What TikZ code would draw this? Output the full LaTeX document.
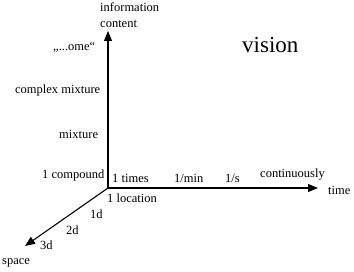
\documentclass[tikz,border=0pt]{standalone}
\usepackage{fontspec}
\setmainfont{Liberation Serif}
\usetikzlibrary{arrows.meta}
\begin{document}
\begin{tikzpicture}[x=1pt,y=-1pt,
  lbl/.style={inner sep=0pt,anchor=west,font=\fontsize{12.5}{15.5}\selectfont},
  axis/.style={line width=1.1pt,-{Triangle[length=10pt,width=8pt]}}]
\useasboundingbox (0,0) rectangle (354,272);
\coordinate (O) at (108,188);
\coordinate (top) at (108,31);
\coordinate (right) at (318,188);
\coordinate (diag) at (25,246);
\draw[axis] (O) -- (top);
\draw[axis] (O) -- (right);
\draw[axis] (O) -- (diag);
\node[lbl,anchor=north west,align=left] (info) at (100,3) {information\\content};
\node[lbl] (ome) at (53,47) {„...ome“};
\node[lbl] (cmix) at (15,90) {complex mixture};
\node[lbl] (mix) at (59,134) {mixture};
\node[lbl] (comp) at (42,175) {1 compound};
\node[lbl] (times) at (112,178) {1 times};
\node[lbl] (min) at (174,178) {1/min};
\node[lbl] (sec) at (225,178) {1/s};
\node[lbl] (cont) at (260,175) {continuously};
\node[lbl] (time) at (328,190) {time};
\node[lbl] (loc) at (107,198) {1 location};
\node[lbl] (d1) at (90,214) {1d};
\node[lbl] (d2) at (66,230) {2d};
\node[lbl] (d3) at (40,245) {3d};
\node[lbl] (space) at (2,263) {space};
\node[inner sep=0pt,anchor=west,font=\fontsize{23}{26}\selectfont] (vision) at (242,45) {vision};
\end{tikzpicture}
\end{document}
